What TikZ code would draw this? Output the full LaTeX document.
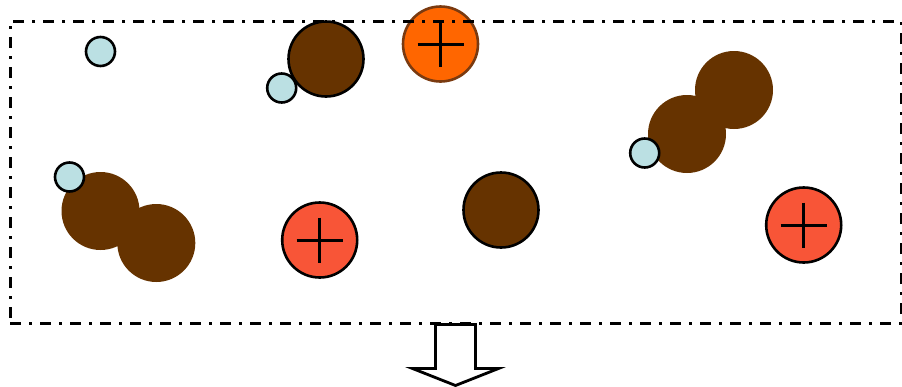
\documentclass[tikz,border=0pt]{standalone}
\definecolor{pblue}{HTML}{BBE0E3}
\definecolor{pbrown}{HTML}{663300}
\definecolor{porange}{HTML}{FF6600}
\definecolor{porangeline}{HTML}{7A3A10}
\definecolor{pred}{HTML}{F85537}
\begin{document}
\begin{tikzpicture}[x=1pt,y=-1pt,
  small/.style={circle,draw=black,line width=2.6pt,fill=pblue,minimum size=29pt,inner sep=0pt},
  bigout/.style={circle,draw=black,line width=2.6pt,fill=pbrown,minimum size=75pt,inner sep=0pt},
  bignone/.style={circle,fill=pbrown,minimum size=78pt,inner sep=0pt},
  plusred/.style={circle,draw=black,line width=2.6pt,fill=pred,minimum size=75pt,inner sep=0pt},
  plusorange/.style={circle,draw=porangeline,line width=2.6pt,fill=porange,minimum size=75pt,inner sep=0pt},
  pluslines/.style={line width=3pt,black},
  frame/.style={line width=3pt,dash pattern=on 11pt off 8pt on 3pt off 8pt},
  blockarrow/.style={line width=2.8pt,draw=black,fill=white}]
\useasboundingbox (0,0) rectangle (902,386);
% brown pairs
\node[bignone] (b1) at (100.5,211) {};
\node[bignone] (b2) at (156.3,243) {};
\node[bignone] (b3) at (734,90) {};
\node[bignone] (b4) at (687,134) {};
% outlined brown
\node[bigout] (b5) at (326,59) {};
\node[bigout] (b6) at (501,210) {};
% small blue
\node[small] (s1) at (100.5,51.5) {};
\node[small] (s2) at (281.7,88) {};
\node[small] (s3) at (69.5,177) {};
\node[small] (s4) at (644.7,153) {};
% plus circles
\node[plusorange] (o1) at (440.5,44) {};
\node[plusred] (r1) at (319.7,240) {};
\node[plusred] (r2) at (803.7,225) {};
\foreach \n in {o1,r1,r2}{
  \draw[pluslines] (\n.center) ++(-23,0) -- ++(46,0);
  \draw[pluslines] (\n.center) ++(0,-22.5) -- ++(0,45);
}
% frame
\node[inner sep=0pt,minimum width=891pt,minimum height=302pt,draw,frame] (box) at (455.5,172) {};
% arrow
\coordinate (at) at (box.south);
\draw[blockarrow] (at) ++(-20,0) -- ++(40,0) -- ++(0,44) -- ++(23,0) -- ++(-43,17) -- ++(-43,-17) -- ++(23,0) -- cycle;
\end{tikzpicture}
\end{document}
